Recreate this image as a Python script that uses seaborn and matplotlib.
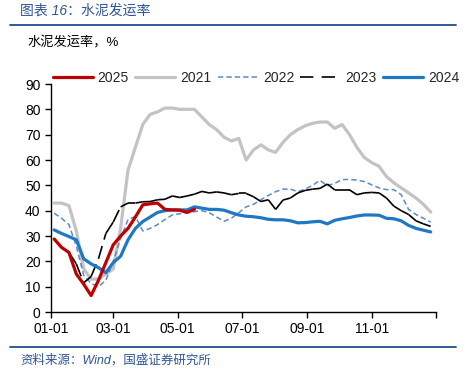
import numpy as np
import pandas as pd
import seaborn as sns
import matplotlib.pyplot as plt
from matplotlib.lines import Line2D

# dados semanais (dia do ano, taxa de expedição de cimento, %)
semanas = [3 + 7 * k for k in range(52)]

v2021 = [43, 43, 42, 32, 17, 13, 13, 15, 17, 33, 56, 65, 74, 78, 79, 80.5, 80.5, 80, 80, 80,
         77, 74, 72, 69, 67.5, 68.5, 60, 64, 66, 64, 63, 67, 70, 72, 73.5, 74.5, 75, 75, 72.5, 74,
         70, 65, 61, 59, 57.5, 53.5, 51, 49, 47, 45, 42.5, 39.5]
v2022 = [39, 37, 34.5, 26, 14.5, 11.3, 10, 12.5, 20, 29, 36.5, 37.7, 32, 33, 34.5, 36.5, 38.3, 38.8, 39.3, 39.6,
         40, 39.2, 37.5, 35.8, 37, 39.2, 41.5, 42.5, 44.3, 46, 47.5, 48.5, 48.5, 47.5, 48.5, 50, 52, 49.8, 50.8, 52.3,
         52.3, 52.1, 51.5, 50.2, 49, 48.3, 48.3, 46.3, 40.5, 38.5, 37, 35.5]
v2023 = [29, 25.5, 23.5, 19, 11.5, 14, 21, 31, 35.5, 41.5, 43, 43, 43.5, 43.6, 44.3, 44.5, 45.8, 45.2, 45.8, 46.5,
         47.6, 47, 47.4, 47, 46.3, 46.8, 46.8, 45.5, 43.6, 44.3, 40.5, 44.2, 45, 47, 48, 48.5, 48.8, 50.5, 48.2, 48.2,
         48.2, 46.3, 47, 47.2, 47, 45, 41.8, 40, 38.5, 36, 34.8, 33.8]
v2024 = [32.4, 31, 29.8, 28.5, 21, 19, 17.5, 15.5, 19.5, 22, 28.5, 33, 35.7, 37.5, 39.3, 40, 40.3, 40.3, 40.3, 41.5,
         41, 40.5, 40.5, 40.2, 39.2, 38.3, 37.8, 37.6, 37.2, 36.6, 36.4, 36.4, 36, 35.2, 35.3, 35.6, 35.8, 34.8, 36.2, 36.8,
         37.3, 37.9, 38.3, 38.3, 38.2, 37, 36.8, 36, 34.2, 33, 32.3, 31.6]
v2025 = [28.8, 25.5, 23.5, 15, 11, 6.5, 12.5, 19.5, 26.5, 30, 33, 37.5, 42.3, 42.7, 43, 40.5, 40.3, 40.2, 39.3, 40.5]

ticks_pos = [0, 59, 120, 181, 243, 304, 365]
ticks_lab = ['01-01', '03-01', '05-01', '07-01', '09-01', '11-01', '']

sns.set_style('ticks')
plt.rcParams['font.family'] = ['Liberation Sans', 'Noto Sans CJK SC']

fig = plt.figure(figsize=(4.66, 3.76), dpi=100)
ax = fig.add_axes([51 / 466, 1 - 312 / 376, 385 / 466, 228 / 376])

sns.lineplot(x=semanas, y=v2021, ax=ax, color='#c3c3c3', lw=2.3)
sns.lineplot(x=semanas, y=v2022, ax=ax, color='#5b8bc9', lw=1.1, linestyle=(0, (3.5, 2)))
# 2023: cada segmento com o próprio tracejado (como no Excel)
for i in range(len(semanas) - 1):
    ax.plot(semanas[i:i + 2], v2023[i:i + 2], color='black', lw=1.2, dashes=(8, 4))
sns.lineplot(x=semanas, y=v2024, ax=ax, color='#1f78c4', lw=2.3)
sns.lineplot(x=semanas[:len(v2025)], y=v2025, ax=ax, color='#c00000', lw=2.3)

ax.set_xlim(0, 365)
ax.set_ylim(0, 90)
ax.set_yticks(range(0, 91, 10))
ax.set_xticks(ticks_pos)
ax.set_xticklabels(ticks_lab)
ax.tick_params(labelsize=10, length=4, width=1, direction='out', color='black', labelcolor='black')
sns.despine(ax=ax)
for s in ['left', 'bottom']:
    ax.spines[s].set_color('black')
    ax.spines[s].set_linewidth(1)

handles = [
    Line2D([], [], color='#c00000', lw=2.3),
    Line2D([], [], color='#c3c3c3', lw=2.3),
    Line2D([], [], color='#5b8bc9', lw=1.1, linestyle=(0, (3.5, 2))),
    Line2D([], [], color='black', lw=1.2, dashes=(8, 5)),
    Line2D([], [], color='#1f78c4', lw=2.3),
]
fig.legend(handles, ['2025', '2021', '2022', '2023', '2024'], ncol=5, frameon=False,
           loc='center', bbox_to_anchor=(256 / 466, 1 - 78 / 376), fontsize=10,
           handlelength=2.9, handletextpad=0.35, columnspacing=0.45)

azul = '#2f5597'
fig.text(20 / 466, 1 - 11 / 376, '图表 16：水泥发运率', color=azul, fontsize=10, style='italic', va='center')
fig.add_artist(Line2D([10 / 466, 456 / 466], [1 - 25 / 376] * 2, color='#1f4e8c', lw=1.3))
fig.text(27 / 466, 1 - 43 / 376, '水泥发运率，%', color='black', fontsize=9.5, va='center')
fig.add_artist(Line2D([10 / 466, 456 / 466], [1 - 347 / 376] * 2, color='#1f4e8c', lw=1.3))
fig.text(20 / 466, 1 - 360 / 376, '资料来源：Wind，国盛证券研究所', color=azul, fontsize=9, style='italic', va='center')

fig.savefig('out.png', dpi=100)
